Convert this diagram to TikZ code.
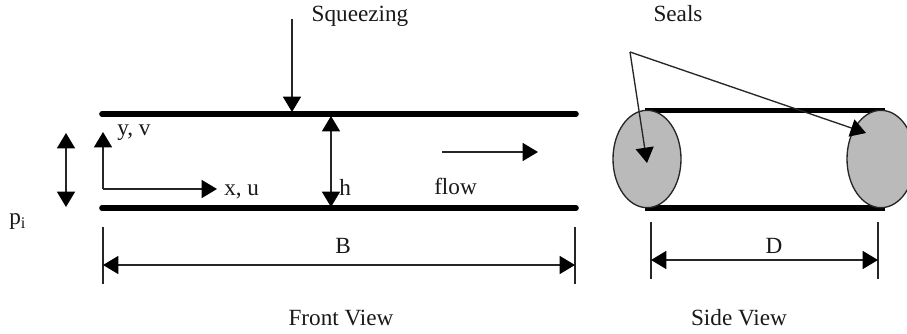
\documentclass[tikz,border=0pt]{standalone}
\usepackage{fontspec}
\setmainfont{Liberation Serif}
\usetikzlibrary{arrows.meta,shapes.geometric}
\tikzset{
  px/.style={x=0.75pt,y=-0.75pt},
  plate/.style={line width=4.2pt,line cap=round,black},
  sideplate/.style={line width=4.2pt,black},
  thin line/.style={line width=1pt,black!85},
  onearrow/.style={thin line,-{Triangle[length=11.5pt,width=13.5pt,color=black]}},
  twoarrow/.style={thin line,{Triangle[length=11.5pt,width=13.5pt,color=black]}-{Triangle[length=11.5pt,width=13.5pt,color=black]}},
  lab/.style={font=\fontsize{17.4pt}{19pt}\selectfont,inner sep=0pt,text=black!90},
  seal/.style={ellipse,draw=black!85,line width=1pt,fill=black!27,inner sep=0pt,minimum width=51pt,minimum height=73pt}
}
\begin{document}
\begin{tikzpicture}[px]
\useasboundingbox (0,0) rectangle (907,334);
\fill[white] (0,0) rectangle (907,334);
\clip (0,0) rectangle (907,334);
% front view coordinates
\coordinate (ftl) at (102,114); \coordinate (ftr) at (576,114);
\coordinate (fbl) at (102,208); \coordinate (fbr) at (576,208);
\draw[plate] (ftl) -- (ftr);
\draw[plate] (fbl) -- (fbr);
\coordinate (sqs) at (292,19); \coordinate (sqe) at (292,112);
\draw[onearrow] (sqs) -- (sqe);
\coordinate (ha) at (331,116); \coordinate (hb) at (331,207);
\draw[twoarrow] (ha) -- (hb);
\coordinate (pa) at (66,133); \coordinate (pb) at (66,207);
\draw[twoarrow] (pa) -- (pb);
\coordinate (org) at (103,189); \coordinate (yax) at (103,132); \coordinate (xax) at (217,189);
\draw[onearrow] (org) -- (yax);
\draw[onearrow] (org) -- (xax);
\coordinate (fla) at (442,152); \coordinate (flb) at (538,152);
\draw[onearrow] (fla) -- (flb);
% B dimension
\coordinate (bl1) at (103,227); \coordinate (bl2) at (103,284);
\coordinate (br1) at (575,227); \coordinate (br2) at (575,284);
\coordinate (bda) at (103,265); \coordinate (bdb) at (575,265);
\draw[thin line] (bl1) -- (bl2);
\draw[thin line] (br1) -- (br2);
\draw[twoarrow] (bda) -- (bdb);
% side view
\coordinate (stl) at (645,110.5); \coordinate (str) at (885,110.5);
\coordinate (sbl) at (645,208); \coordinate (sbr) at (885,208);
\draw[sideplate] (stl) -- (str);
\draw[sideplate] (sbl) -- (sbr);
\node[seal] (sealL) at (647,159) {};
\node[seal] (sealR) at (881,159) {};
% seal leaders
\coordinate (apex) at (630,52); \coordinate (sla) at (647,163); \coordinate (slb) at (866,133);
\draw[onearrow] (apex) -- (sla);
\draw[onearrow] (apex) -- (slb);
% D dimension
\coordinate (dl1) at (651,222); \coordinate (dl2) at (651,279);
\coordinate (dr1) at (878,222); \coordinate (dr2) at (878,279);
\coordinate (dda) at (651,260); \coordinate (ddb) at (878,260);
\draw[thin line] (dl1) -- (dl2);
\draw[thin line] (dr1) -- (dr2);
\draw[twoarrow] (dda) -- (ddb);
% labels
\node[lab,anchor=base] (tsq) at (360,22) {Squeezing};
\node[lab,anchor=base] (tse) at (678,22) {Seals};
\node[lab,anchor=base west] (tyv) at (117,136) {y, v};
\node[lab,anchor=base west] (txu) at (224,196) {x, u};
\node[lab,anchor=base west] (th) at (339,196) {h};
\node[lab,anchor=base west] (tfl) at (434,195) {flow};
\node[lab,anchor=base west] (tpi) at (9,225) {p\textsubscript{i}};
\node[lab,anchor=base] (tb) at (343,254) {B};
\node[lab,anchor=base] (td) at (774,254) {D};
\node[lab,anchor=base] (tfv) at (341,326) {Front View};
\node[lab,anchor=base] (tsv) at (739,326) {Side View};
\end{tikzpicture}
\end{document}
